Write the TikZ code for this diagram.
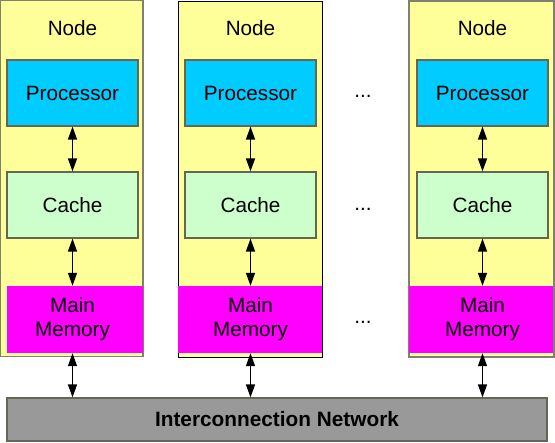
\documentclass[tikz,border=0pt]{standalone}
\usepackage{fontspec}
\setmainfont{Liberation Sans}
\usetikzlibrary{arrows.meta}
\definecolor{nodeyellow}{HTML}{FFFF99}
\definecolor{proccyan}{HTML}{00CCFF}
\definecolor{cachegreen}{HTML}{CCFFCC}
\definecolor{memmag}{HTML}{FF00FF}
\definecolor{netgray}{HTML}{999999}
\definecolor{boxedge}{HTML}{666655}
\definecolor{outeredge}{HTML}{808070}
\begin{document}
\begin{tikzpicture}[x=1pt,y=-1pt,
  every node/.style={font=\fontsize{20.7}{24}\selectfont, inner sep=0pt, align=center},
  nodebox/.style={draw=outeredge, fill=nodeyellow, line width=1.1pt, minimum width=#1, minimum height=356},
  inbox/.style={draw=boxedge, line width=1.2pt, minimum width=131, minimum height=66},
  procbox/.style={inbox, fill=proccyan},
  cachebox/.style={inbox, fill=cachegreen},
  membox/.style={fill=memmag, minimum width=#1, minimum height=67},
  netbox/.style={draw=boxedge, fill=netgray, line width=1.2pt, minimum width=540, minimum height=43, font=\fontsize{20.8}{24}\selectfont\bfseries},
  arr/.style={{Triangle[width=9pt,length=13pt]}-{Triangle[width=9pt,length=13pt]}, line width=1.4pt, black}
]
\useasboundingbox (0,0) rectangle (555,443);
\fill[white] (0,0) rectangle (555,443);

% outer node boxes
\node[nodebox=143] (n1) at (71.5,178.5) {};
\node[nodebox=144, draw=black, line width=0.9pt] (n2) at (250,179) {};
\node[nodebox=145] (n3) at (481.5,179) {};

% labels
\node (l1) at (72.5,28) {Node};
\node (l2) at (250.5,28) {Node};
\node (l3) at (482.5,28) {Node};

% processors
\node[procbox] (p1) at (72.5,93) {Processor};
\node[procbox] (p2) at (250.5,93) {Processor};
\node[procbox] (p3) at (482.5,93) {Processor};

% caches
\node[cachebox] (c1) at (72.5,205) {Cache};
\node[cachebox] (c2) at (250.5,205) {Cache};
\node[cachebox] (c3) at (482.5,205) {Cache};

% memories
\node[membox=136] (m1) at (75,319.5) {};
\node[membox=144] (m2) at (250,319.5) {};
\node[membox=144] (m3) at (481,319.5) {};
\node (mt1) at (72.5,319.5) {Main\\Memory};
\node (mt2) at (250.5,319.5) {Main\\Memory};
\node (mt3) at (482.5,319.5) {Main\\Memory};

% network
\node[netbox] (net) at (277,419.5) {Interconnection Network};

% dots
\node (d1) at (363,96) {...};
\node (d2) at (363,209) {...};
\node (d3) at (363,322) {...};

% arrows
\foreach \i in {1,2,3}{
  \draw[arr] (p\i.south) -- (c\i.north);
  \draw[arr] (c\i.south) -- (c\i.south |- m\i.north);
  \draw[arr] (m\i.south -| c\i.south) -- (net.north -| c\i.south);
}
\end{tikzpicture}
\end{document}
